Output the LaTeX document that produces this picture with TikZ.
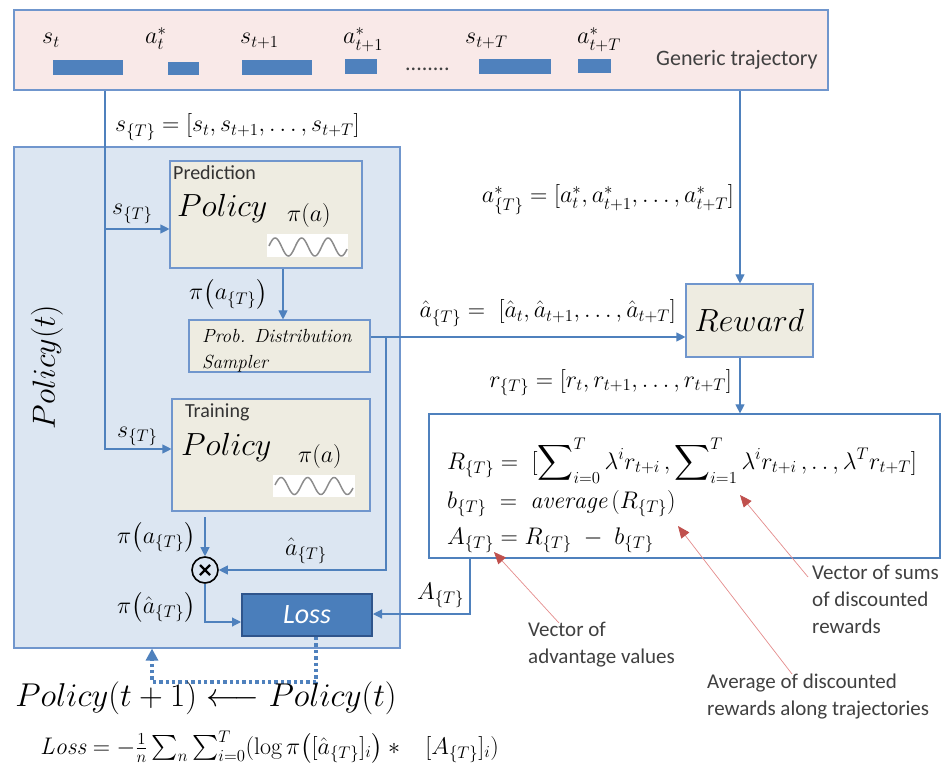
\RequirePackage{fix-cm}
\documentclass[tikz,border=0pt]{standalone}
\usepackage{amsmath}
\usepackage{fontspec}
\newfontfamily\calib{Carlito}
\usetikzlibrary{arrows.meta}
\definecolor{lineblue}{RGB}{79,129,189}
\definecolor{boxedge}{RGB}{112,150,205}
\definecolor{trajfill}{RGB}{249,233,232}
\definecolor{polfill}{RGB}{220,230,242}
\definecolor{beige}{RGB}{238,236,225}
\definecolor{lossfill}{RGB}{74,126,187}
\definecolor{lossedge}{RGB}{47,85,140}
\definecolor{redline}{RGB}{228,140,140}
\definecolor{redhead}{RGB}{192,80,77}
\definecolor{txtgray}{RGB}{64,64,64}
\definecolor{wavegray}{RGB}{140,140,140}
\tikzset{
  ln/.style={draw=lineblue, line width=1.1pt},
  arr/.style={ln, -{Triangle[length=9pt,width=9pt]}},
  bx/.style={draw=boxedge, line width=1.1pt, inner sep=0pt},
  inbox/.style={bx, fill=beige},
  mth/.style={inner sep=0pt, font=\fontsize{24}{28}\selectfont},
  big/.style={inner sep=0pt, font=\fontsize{32}{36}\selectfont},
  sans/.style={inner sep=0pt, text=txtgray, font=\calib\fontsize{21}{27}\selectfont, align=left},
  bar/.style={fill=lineblue, draw=none},
  redarr/.style={draw=redline, line width=0.7pt, -{Triangle[length=12pt,width=10pt,color=redhead]}},
  dotarr/.style={draw=lineblue, line width=3.4pt, dash pattern=on 3.4pt off 3pt, -{Triangle[length=12pt,width=12pt]}},
  wave/.style={draw=wavegray, line width=1.5pt},
}
\begin{document}
\begin{tikzpicture}[x=1pt,y=-1pt]
\useasboundingbox (0,0) rectangle (946,770);
% big policy box
\node[bx, fill=polfill, minimum width=386pt, minimum height=501pt] (pol) at (207,397.5) {};
% trajectory box
\node[bx, fill=trajfill, minimum width=814pt, minimum height=80pt] (traj) at (421,50) {};
\node[mth, anchor=base west] (l1) at (42,44) {$s_t$};
\node[mth, anchor=base west] (l2) at (145,44) {$a^{*}_{t}$};
\node[mth, anchor=base west] (l3) at (240,44) {$s_{t+1}$};
\node[mth, anchor=base west] (l4) at (343,44) {$a^{*}_{t+1}$};
\node[mth, anchor=base west] (l5) at (465,44) {$s_{t+T}$};
\node[mth, anchor=base west] (l6) at (577,44) {$a^{*}_{t+T}$};
\fill[bar] (53,60) rectangle (123,75);
\fill[bar] (168,62) rectangle (199,75);
\fill[bar] (242,60) rectangle (312,75);
\fill[bar] (345,59) rectangle (377,74);
\fill[bar] (479,59) rectangle (551,74);
\fill[bar] (578,59) rectangle (611,73);
\node[sans, anchor=base west, font=\calib\fontsize{22}{26}\selectfont] (dots) at (405,71) {........};
\node[sans, anchor=base west, font=\calib\fontsize{22}{26}\selectfont] (gen) at (656,66) {Generic trajectory};
% inner boxes
\node[inbox, minimum width=192pt, minimum height=107pt] (pred) at (266,214.5) {};
\node[inbox, minimum width=181pt, minimum height=52pt] (samp) at (279.5,346) {};
\node[inbox, minimum width=198pt, minimum height=112pt] (train) at (271,455) {};
\node[draw=lossedge, line width=2pt, fill=lossfill, minimum width=130pt, minimum height=42pt, inner sep=0pt, text=white, font=\calib\itshape\fontsize{28}{30}\selectfont] (loss) at (307,615) {Loss};
\node[inbox, minimum width=127pt, minimum height=73pt, font=\fontsize{32}{36}\selectfont] (reward) at (749.5,320.5) {$Reward$};
\node[draw=lineblue, line width=1.2pt, fill=white, minimum width=511pt, minimum height=144pt, inner sep=0pt] (form) at (684.5,486) {};
% prediction contents
\node[sans, anchor=base west, text=black!80, font=\calib\fontsize{20}{24}\selectfont] (predt) at (173,180) {Prediction};
\node[big, anchor=base west] (predp) at (177,217) {$Policy$};
\node[mth, anchor=base west] (predpi) at (287,222) {$\pi(a)$};
\node[fill=white, inner sep=0pt, minimum width=81pt, minimum height=23pt] (w1) at (307.5,246) {};
\draw[wave] plot[domain=269:347, samples=90] (\x, {247-9*sin((\x-268.5)/26.5*360)});
% training contents
\node[sans, anchor=base west, text=black!80, font=\calib\fontsize{20}{24}\selectfont] (traint) at (185,417) {Training};
\node[big, anchor=base west] (trainp) at (181,455) {$Policy$};
\node[mth, anchor=base west] (trainpi) at (298,462) {$\pi(a)$};
\node[fill=white, inner sep=0pt, minimum width=82pt, minimum height=22pt] (w2) at (314,486) {};
\draw[wave] plot[domain=275:353, samples=90] (\x, {486-8.5*sin((\x-274.5)/26.5*360)});
% sampler text
\node[inner sep=0pt, anchor=base west, font=\itshape\fontsize{19}{25}\selectfont] (sampt1) at (202,343) {Prob. Distribution};
\node[inner sep=0pt, anchor=base west, font=\itshape\fontsize{19}{25}\selectfont] (sampt2) at (202,368) {Sampler};
% rotated policy
\node[inner sep=0pt, rotate=90, font=\fontsize{32}{36}\selectfont] (polt) at (47,367) {$Policy(t)$};
% otimes
\node[circle, draw=black, line width=1.6pt, minimum size=26pt, inner sep=0pt] (ot) at (205,570) {};
\draw[line width=2.2pt] (ot.center) ++(-5,-5) -- ++(10,10);
\draw[line width=2.2pt] (ot.center) ++(-5,5) -- ++(10,-10);
% coordinates
\coordinate (sx) at (105,0);
\coordinate (ax) at (740,0);
\coordinate (yP) at (0,229);
\coordinate (yT) at (0,449);
\coordinate (xps) at (283,0);
\coordinate (ys) at (0,337);
\coordinate (bx) at (386,337);
\coordinate (yO) at (0,570);
\coordinate (tb) at (205,517);
\coordinate (yL) at (0,622);
\coordinate (Ax) at (470,0);
\coordinate (yA) at (0,614);
\coordinate (dx1) at (316,0);
\coordinate (dx2) at (152,0);
\coordinate (yd) at (0,682);
% connectors
\draw[arr] (traj.south -| sx) -- (sx |- yT) -- (train.west |- yT);
\draw[arr] (sx |- yP) -- (pred.west |- yP);
\draw[arr] (pred.south -| xps) -- (samp.north -| xps);
\draw[arr] (samp.east |- ys) -- (reward.west |- ys);
\draw[arr] (bx) -- (bx |- yO) -- (ot.east);
\draw[arr] (traj.south -| ax) -- (reward.north -| ax);
\draw[arr] (reward.south -| ax) -- (form.north -| ax);
\draw[arr] (tb) -- (ot.north);
\draw[arr] (ot.south) -- (ot.south |- yL) -- (loss.west |- yL);
\draw[arr] (form.south -| Ax) -- (Ax |- yA) -- (loss.east |- yA);
\draw[dotarr] (loss.south -| dx1) -- (dx1 |- yd) -- (dx2 |- yd) -- (pol.south -| dx2);
% labels
\node[mth, anchor=base west] (lsT) at (115,132) {$s_{\{T\}} = [s_t, s_{t+1}, \ldots, s_{t+T}]$};
\node[mth, anchor=base west] (lsT1) at (112,215) {$s_{\{T\}}$};
\node[mth, anchor=base west] (lpa1) at (189,300) {$\pi\bigl(a_{\{T\}}\bigr)$};
\node[mth, anchor=base west] (lsT2) at (117,437) {$s_{\{T\}}$};
\node[mth, anchor=base west] (lpa2) at (117,543) {$\pi\bigl(a_{\{T\}}\bigr)$};
\node[mth, anchor=base west] (lpah) at (117,613) {$\pi\bigl(\hat{a}_{\{T\}}\bigr)$};
\node[mth, anchor=base west] (lah) at (285,555) {$\hat{a}_{\{T\}}$};
\node[mth, anchor=base west] (lA) at (417,599) {$A_{\{T\}}$};
\node[mth, anchor=base east] (laT) at (734,203) {$a^{*}_{\{T\}} = [a^{*}_{t}, a^{*}_{t+1}, \ldots, a^{*}_{t+T}]$};
\node[mth, anchor=base east] (lahT) at (676,318) {$\hat{a}_{\{T\}} = \;[\hat{a}_t, \hat{a}_{t+1}, \ldots, \hat{a}_{t+T}]$};
\node[mth, anchor=base east] (lrT) at (732,387) {$r_{\{T\}} = [r_t, r_{t+1}, \ldots, r_{t+T}]$};
% formula box lines
\node[mth, anchor=base west] (fR) at (447,469) {$R_{\{T\}} =\; [\displaystyle\sum\nolimits_{i=0}^{T}\lambda^{i} r_{t+i}\,, \sum\nolimits_{i=1}^{T}\lambda^{i} r_{t+i}\,, .\,.\,, \lambda^{T} r_{t+T}]$};
\node[mth, anchor=base west] (fb) at (447,508) {$b_{\{T\}} \;=\; \mathit{average}\,(R_{\{T\}})$};
\node[mth, anchor=base west] (fA) at (447,544) {$A_{\{T\}} = R_{\{T\}} \;-\; b_{\{T\}}$};
% annotations
\node[sans, anchor=north west] (n1) at (528,622) {Vector of\\advantage values};
\node[sans, anchor=north west] (n2) at (707,674) {Average of discounted\\rewards along trajectories};
\node[sans, anchor=north west] (n3) at (812,565) {Vector of sums\\of discounted\\rewards};
\coordinate (t1) at (559,623);
\coordinate (h1) at (494,552);
\coordinate (t2) at (792,674);
\coordinate (h2) at (678,526);
\coordinate (t3) at (808,577);
\coordinate (h3) at (740,495);
\draw[redarr] (t1) -- (h1);
\draw[redarr] (t2) -- (h2);
\draw[redarr] (t3) -- (h3);
% bottom
\node[inner sep=0pt, font=\fontsize{33}{38}\selectfont] (upd) at (206,698) {$Policy(t+1) \longleftarrow Policy(t)$};
\node[inner sep=0pt, anchor=west, font=\fontsize{24}{28}\selectfont] (lossf) at (40,747) {$\mathit{Loss} = -\frac{1}{n}\sum_{n}\sum_{i=0}^{T}(\log\pi\bigl([\hat{a}_{\{T\}}]_i\bigr) *\;\;\; [A_{\{T\}}]_i)$};
\end{tikzpicture}
\end{document}
